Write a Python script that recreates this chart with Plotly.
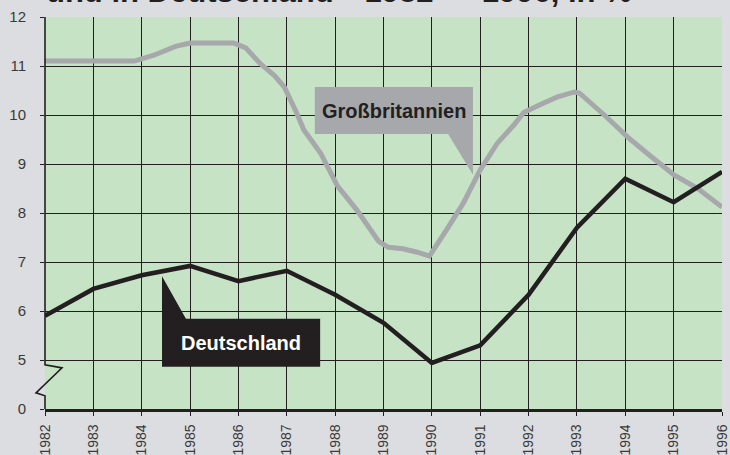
import plotly.graph_objects as go

# ---- data ----
years = list(range(1982, 1997))
year_labels = [str(y) for y in years]
de_values = [5.9, 6.45, 6.73, 6.92, 6.61, 6.82, 6.33, 5.76, 4.94, 5.3, 6.33, 7.7, 8.7, 8.22, 8.84]

gb_x = [1982.0, 1983.0, 1983.85, 1984.25, 1984.7, 1985.0, 1985.9, 1986.15, 1986.45,
        1986.75, 1986.95, 1987.2, 1987.35, 1987.7, 1988.05, 1988.45, 1988.9, 1989.1,
        1989.4, 1989.7, 1989.95, 1990.3, 1990.65, 1991.0, 1991.35, 1991.7, 1991.9,
        1992.3, 1992.6, 1992.95, 1993.05, 1993.6, 1994.05, 1994.45, 1995.0, 1995.5, 1996.0]
gb_values = [11.1, 11.1, 11.1, 11.22, 11.4, 11.47, 11.47, 11.37, 11.05,
             10.8, 10.57, 10.05, 9.7, 9.22, 8.55, 8.06, 7.42, 7.3,
             7.27, 7.2, 7.12, 7.65, 8.2, 8.88, 9.42, 9.8, 10.05,
             10.24, 10.37, 10.47, 10.45, 9.97, 9.55, 9.22, 8.78, 8.5, 8.12]

y_tick_vals = [4, 5, 6, 7, 8, 9, 10, 11, 12]
y_tick_text = ["0", "5", "6", "7", "8", "9", "10", "11", "12"]

title_text = "und in Deutschland\u2002\u20021982\u2002–\u20021996, in %"

# ---- style ----
PAGE = "#dcdde0"
GREEN = "#c6e3c5"
DARK = "#231f20"
GREY = "#a7a8ab"
FONT = "Liberation Sans, Arial, sans-serif"

YMIN, YMAX = 4, 12
XMIN, XMAX = 1982, 1996

fig = go.Figure()
fig.add_trace(go.Scatter(x=gb_x, y=gb_values, mode="lines",
                         line=dict(color=GREY, width=5), hoverinfo="skip"))
fig.add_trace(go.Scatter(x=years, y=de_values, mode="lines",
                         line=dict(color=DARK, width=4.5), hoverinfo="skip"))

W, H = 730, 455
ml, mr, mt, mb = 45, 8, 17, 46
pw = W - ml - mr
ph = H - mt - mb


def px_x(dx):
    return dx / pw


def py(v):
    return (v - YMIN) / (YMAX - YMIN)


# left axis with break symbol (paper coords)
brk = [(0, py(12)), (0, py(4.9)), (px_x(17), py(4.84)), (px_x(-9), py(4.33)),
       (0, py(4.27)), (0, py(4))]
path = "M " + " L ".join(f"{x},{y}" for x, y in brk)
shapes = [dict(type="path", path=path, xref="paper", yref="paper",
               line=dict(color=DARK, width=1.6), layer="above")]

# Großbritannien label box + pointer
shapes.append(dict(type="rect", xref="x", yref="y", x0=1987.58, x1=1990.85, y0=9.61, y1=10.57,
                   fillcolor=GREY, line=dict(width=0), layer="above"))
shapes.append(dict(type="path", xref="x", yref="y",
                   path="M 1990.33,9.62 L 1990.85,8.78 L 1990.85,9.62 Z",
                   fillcolor=GREY, line=dict(width=0), layer="above"))
# Deutschland label box + pointer
shapes.append(dict(type="rect", xref="x", yref="y", x0=1984.42, x1=1987.69, y0=4.86, y1=5.84,
                   fillcolor=DARK, line=dict(width=0), layer="above"))
shapes.append(dict(type="path", xref="x", yref="y",
                   path="M 1984.42,5.83 L 1984.42,6.71 L 1984.92,5.83 Z",
                   fillcolor=DARK, line=dict(width=0), layer="above"))

annotations = [
    dict(x=(1987.58 + 1990.85) / 2, y=(9.61 + 10.57) / 2, xref="x", yref="y",
         text="<b>Großbritannien</b>", showarrow=False,
         font=dict(family=FONT, size=20, color=DARK)),
    dict(x=(1984.42 + 1987.69) / 2, y=(4.86 + 5.84) / 2, xref="x", yref="y",
         text="<b>Deutschland</b>", showarrow=False,
         font=dict(family=FONT, size=20, color="white")),
    dict(x=px_x(-1), y=1 + 6 / ph, xref="paper", yref="paper", xanchor="left", yanchor="bottom",
         text="<b>" + title_text + "</b>", showarrow=False,
         font=dict(family=FONT, size=31, color=DARK)),
]

fig.update_layout(
    width=W, height=H,
    margin=dict(l=ml, r=mr, t=mt, b=mb, pad=0, autoexpand=False),
    paper_bgcolor=PAGE, plot_bgcolor=GREEN,
    showlegend=False,
    shapes=shapes, annotations=annotations,
    xaxis=dict(range=[XMIN, XMAX], tickvals=years, ticktext=year_labels,
               tickangle=-90, ticks="outside", ticklen=4, tickwidth=1, tickcolor=DARK,
               showgrid=True, gridcolor=DARK, gridwidth=1,
               showline=True, linecolor=DARK, linewidth=2.5,
               ticklabelstandoff=3, automargin=False,
               tickfont=dict(family=FONT, size=14, color="#3a3a3a"),
               zeroline=False, fixedrange=True),
    yaxis=dict(range=[YMIN, YMAX], tickvals=y_tick_vals, ticktext=y_tick_text,
               ticks="outside", ticklen=4, tickwidth=1, tickcolor=DARK,
               showgrid=True, gridcolor=DARK, gridwidth=1,
               showline=False, ticklabelstandoff=11, automargin=False,
               tickfont=dict(family=FONT, size=15, color="#3a3a3a"),
               zeroline=False, fixedrange=True),
)

fig.write_html("out.html", config={"displayModeBar": False},
               post_script="document.body.style.margin='0';document.body.style.background='%s';" % PAGE)
